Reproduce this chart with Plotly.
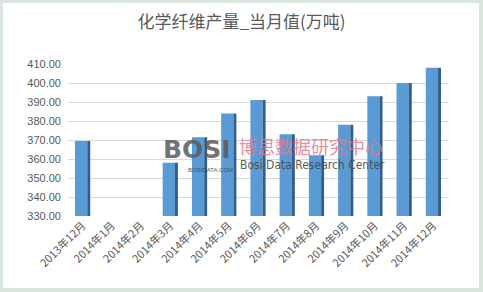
import plotly.graph_objects as go

categories = ["2013年12月", "2014年1月", "2014年2月", "2014年3月", "2014年4月", "2014年5月",
              "2014年6月", "2014年7月", "2014年8月", "2014年9月", "2014年10月", "2014年11月", "2014年12月"]
values = [369.5, None, None, 358.0, 371.5, 384.0, 391.0, 373.0, 362.0, 378.0, 393.0, 400.0, 408.0]
y_ticks = [330, 340, 350, 360, 370, 380, 390, 400, 410]
y_tick_labels = ["%.2f" % v for v in y_ticks]

W, H = 483, 292
L, R, T, B = 68, 35, 64, 76
pw, ph = W - L - R, H - T - B

def px(x):
    return (x - L) / pw

def py(y):
    return (H - B - y) / ph

fig = go.Figure()
# front face
fig.add_trace(go.Bar(x=categories, y=values, width=0.42, offset=-0.26,
                     marker=dict(color="#5b9bd5", line=dict(width=0)), showlegend=False))
# side face
fig.add_trace(go.Bar(x=categories, y=values, width=0.1, offset=0.16,
                     marker=dict(color="#2f5f8c", line=dict(width=0)), showlegend=False))

cjk = "Noto Sans CJK SC, Liberation Sans, sans-serif"
fig.update_layout(
    width=W, height=H,
    margin=dict(l=L, r=R, t=T, b=B),
    paper_bgcolor="#d9e4dd",
    plot_bgcolor="rgba(0,0,0,0)",
    barmode="overlay",
    title=dict(text="化学纤维产量_当月值(万吨)", x=0.5, xanchor="center", y=1 - 22 / H, yanchor="middle",
               font=dict(family=cjk, size=17, color="#595959")),
    xaxis=dict(type="category", categoryorder="array", categoryarray=categories,
               tickangle=-45, tickfont=dict(family=cjk, size=11, color="#595959"),
               showgrid=False, zeroline=False, showline=False, ticks="", range=[-0.5, 12.5]),
    yaxis=dict(range=[330, 410], tickvals=y_ticks, ticktext=y_tick_labels,
               tickfont=dict(family="Liberation Sans, sans-serif", size=11, color="#595959"),
               showgrid=True, gridcolor="#d9d9d9", gridwidth=1, zeroline=False, showline=False,
               ticks="", ticklabelstandoff=6),
    shapes=[dict(type="rect", xref="paper", yref="paper",
                 x0=px(3), x1=px(479), y0=py(288), y1=py(3),
                 fillcolor="white", line=dict(width=0), layer="below")],
    annotations=[
        dict(text="<b>BOSI</b>", x=px(233), y=py(149), xref="paper", yref="paper", showarrow=False,
             xanchor="right", yanchor="middle",
             font=dict(family="DejaVu Sans", size=25, color="rgba(90,90,90,0.85)")),
        dict(text="BOSIDATA.COM", x=px(235), y=py(170), xref="paper", yref="paper", showarrow=False,
             xanchor="right", yanchor="middle",
             font=dict(family="Liberation Sans", size=6, color="rgba(60,60,60,0.9)")),
        dict(text="博思数据研究中心", x=px(237), y=py(146), xref="paper", yref="paper", showarrow=False,
             xanchor="left", yanchor="middle",
             font=dict(family=cjk, size=18, color="rgba(225,120,140,0.85)")),
        dict(text="Bosi Data Research Center", x=px(238), y=py(165), xref="paper", yref="paper", showarrow=False,
             xanchor="left", yanchor="middle",
             font=dict(family="DejaVu Sans Condensed, Liberation Sans", size=12, color="rgba(70,70,70,0.9)")),
    ],
)

fig.write_html("out.html")
